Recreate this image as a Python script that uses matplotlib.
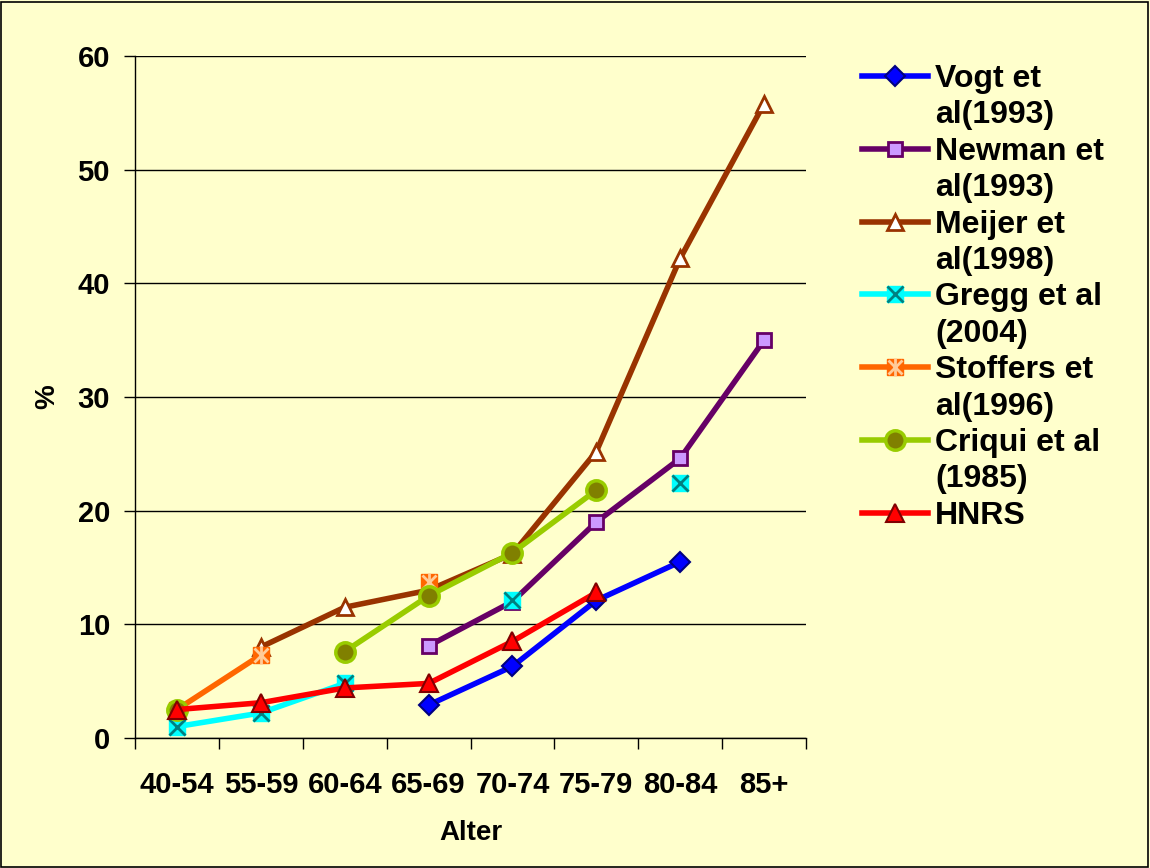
import numpy as np
import matplotlib
matplotlib.use("Agg")
import matplotlib.pyplot as plt
from matplotlib.patches import Rectangle
from matplotlib.lines import Line2D

plt.rcParams["font.family"] = ["Liberation Sans", "DejaVu Sans"]
plt.rcParams["font.weight"] = "bold"

# ----------------------------------------------------------
# Daten (Prävalenz in % je Altersgruppe)
# ----------------------------------------------------------
age_groups = ["40-54", "55-59", "60-64", "65-69", "70-74", "75-79", "80-84", "85+"]
nan = np.nan

vogt     = [nan, nan, nan, 2.9, 6.3, 12.1, 15.5, nan]
newman   = [nan, nan, nan, 8.1, 12.0, 19.0, 24.6, 35.0]
meijer   = [nan, 8.0, 11.5, 13.0, 16.2, 25.2, 42.2, 55.8]
gregg    = [1.0, 2.2, 4.8, nan, 12.1, nan, 22.4, nan]
stoffers = [2.5, 7.3, nan, 13.7, nan, nan, nan, nan]
criqui   = [2.5, nan, 7.6, 12.5, 16.3, 21.8, nan, nan]
hnrs     = [2.5, 3.1, 4.4, 4.8, 8.5, 12.8, nan, nan]

labels = ["Vogt et\nal(1993)", "Newman et\nal(1993)", "Meijer et\nal(1998)",
          "Gregg et al\n(2004)", "Stoffers et\nal(1996)", "Criqui et al\n(1985)", "HNRS"]

bg = "#FFFFCC"
W, H = 1150, 868
x = np.arange(len(age_groups))

fig = plt.figure(figsize=(W / 100, H / 100), dpi=100, facecolor=bg)
ax = fig.add_axes([0.1174, 0.1498, 0.5835, 0.7857])
ax.set_facecolor(bg)

lw = 4
handles = []

h, = ax.plot(x, vogt, color="#0000FF", lw=lw, marker="D", ms=10,
             mfc="#0000FF", mec="#000080", mew=1.5)
handles.append([h])

h, = ax.plot(x, newman, color="#660066", lw=lw, marker="s", ms=10,
             mfc="#CC99FF", mec="#660066", mew=2)
handles.append([h])

h, = ax.plot(x, meijer, color="#993300", lw=lw, marker="^", ms=12,
             mfc="white", mec="#993300", mew=2)
handles.append([h])

h1, = ax.plot(x, gregg, color="#00FFFF", lw=lw, marker="s", ms=11,
              mfc="#00FFFF", mec="#00FFFF")
h2, = ax.plot(x, gregg, ls="none", marker="x", ms=11, mec="#008080", mew=2)
handles.append([h1, h2])

h1, = ax.plot(x, stoffers, color="#FF6600", lw=lw, marker="s", ms=11,
              mfc="#FF6600", mec="#FF6600")
h2, = ax.plot(x, stoffers, ls="none", marker="x", ms=10, mec="#FFCC99", mew=2)
h3, = ax.plot(x, stoffers, ls="none", marker="|", ms=13, mec="#FFCC99", mew=2)
handles.append([h1, h2, h3])

h, = ax.plot(x, criqui, color="#99CC00", lw=lw, marker="o", ms=14,
             mfc="#808000", mec="#99CC00", mew=2.5)
handles.append([h])

h, = ax.plot(x, hnrs, color="#FF0000", lw=lw, marker="^", ms=13,
             mfc="#FF0000", mec="#800000", mew=1.5)
handles.append([h])

# Achsen
ax.set_xlim(-0.5, len(age_groups) - 0.5)
ax.set_ylim(0, 60)
ax.set_yticks(np.arange(0, 61, 10))
ax.yaxis.grid(True, color="black", lw=1)
ax.set_axisbelow(True)

ax.set_xticks(np.arange(-0.5, len(age_groups), 1.0))
ax.set_xticklabels([])
ax.set_xticks(x, minor=True)
ax.set_xticklabels(age_groups, minor=True)
ax.tick_params(axis="x", which="major", length=8, width=1, color="black")
ax.tick_params(axis="x", which="minor", length=0, pad=24, labelsize=21)
ax.tick_params(axis="y", length=8, width=1, pad=10, labelsize=21)

for s in ["top", "right"]:
    ax.spines[s].set_visible(False)
for s in ["left", "bottom"]:
    ax.spines[s].set_color("black")
    ax.spines[s].set_linewidth(1)

ax.set_xlabel("Alter", fontsize=20, fontweight="bold")
ax.set_ylabel("%", fontsize=20, fontweight="bold")
ax.xaxis.set_label_coords(0.5, -0.120)
ax.yaxis.set_label_coords(-0.112, 0.5)

# ----------------------------------------------------------
# Legende (von Hand, damit Symbol auf Höhe der ersten Zeile sitzt)
# ----------------------------------------------------------
line_step = 36.4
y0 = 76
row = 0
for hs, lab in zip(handles, labels):
    yc = y0 + row * line_step
    yf = 1 - yc / H
    for hh in hs:
        fig.add_artist(Line2D([862 / W, 895 / W, 928 / W], [yf] * 3,
                              transform=fig.transFigure,
                              color=hh.get_color(), lw=hh.get_linewidth(),
                              ls=hh.get_linestyle(), marker=hh.get_marker(),
                              ms=hh.get_markersize(), mfc=hh.get_markerfacecolor(),
                              mec=hh.get_markeredgecolor(), mew=hh.get_markeredgewidth(),
                              markevery=[1]))
    for k, part in enumerate(lab.split("\n")):
        yb = yc + 11 + k * line_step
        fig.text(935 / W, 1 - yb / H, part, fontsize=23, fontweight="bold",
                 ha="left", va="baseline")
    row += len(lab.split("\n"))

# Rahmen um das Diagramm
fig.patches.append(Rectangle((0.001, 0.001), 0.997, 0.997, transform=fig.transFigure,
                             fill=False, edgecolor="black", lw=1.2))

fig.savefig("out.png", dpi=100, facecolor=bg)
